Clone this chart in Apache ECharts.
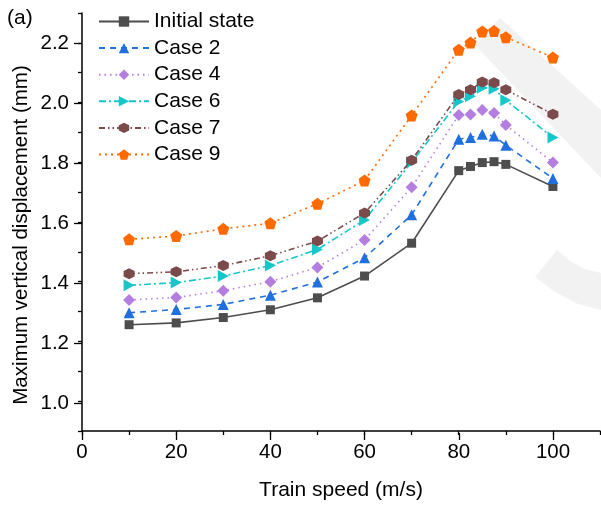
<!DOCTYPE html>
<html>
<head>
<meta charset="utf-8">
<script src="https://cdn.jsdelivr.net/npm/echarts@6/dist/echarts.min.js"></script>
<style>
html,body{margin:0;padding:0;background:#fff;}
#chart{width:601px;height:506px;}
</style>
</head>
<body>
<div id="chart"></div>
<script>
// ---- data ----
var speeds = [10, 20, 30, 40, 50, 60, 70, 80, 82.5, 85, 87.5, 90, 100];
var seriesNames = ['Initial state', 'Case 2', 'Case 4', 'Case 6', 'Case 7', 'Case 9'];
var initialState = [1.256, 1.262, 1.280, 1.306, 1.346, 1.419, 1.529, 1.772, 1.786, 1.799, 1.802, 1.793, 1.719];
var case2 = [1.296, 1.307, 1.324, 1.355, 1.399, 1.480, 1.624, 1.877, 1.883, 1.894, 1.888, 1.857, 1.746];
var case4 = [1.339, 1.347, 1.370, 1.400, 1.448, 1.540, 1.716, 1.958, 1.960, 1.975, 1.965, 1.925, 1.799];
var case6 = [1.388, 1.397, 1.419, 1.454, 1.508, 1.607, 1.800, 2.004, 2.021, 2.050, 2.046, 2.008, 1.883];
var case7 = [1.427, 1.433, 1.454, 1.487, 1.536, 1.630, 1.807, 2.027, 2.043, 2.069, 2.066, 2.043, 1.961];
var case9 = [1.542, 1.553, 1.577, 1.596, 1.661, 1.739, 1.957, 2.177, 2.201, 2.238, 2.240, 2.219, 2.151];
var xTickLabels = ['0', '20', '40', '60', '80', '100'];
var yTickLabels = ['1.0', '1.2', '1.4', '1.6', '1.8', '2.0', '2.2'];

var FONT = '"Liberation Sans", Arial, sans-serif';
function pairs(vals) { return speeds.map(function (s, i) { return [s, vals[i]]; }); }

var styles = [
  { color: '#4d4d4d', type: 'solid', symbol: 'rect', size: 9 },
  { color: '#1f6fde', type: [6, 5], symbol: 'triangle', size: 11 },
  { color: '#b47de0', type: [1.5, 4], symbol: 'diamond', size: 12 },
  { color: '#17c6c8', type: [7, 3, 2, 3], symbol: 'path://M0,0 L1,0.5 L0,1 Z', size: [11, 12] },
  { color: '#7b4b4b', type: [6, 3, 1.5, 3, 1.5, 3], symbol: 'path://M0,-1 L0.866,-0.5 L0.866,0.5 L0,1 L-0.866,0.5 L-0.866,-0.5 Z', size: 11 },
  { color: '#ff6a00', type: [2, 4], symbol: 'path://M0,-1 L0.951,-0.309 L0.588,0.809 L-0.588,0.809 L-0.951,-0.309 Z', size: 12 }
];
var allData = [initialState, case2, case4, case6, case7, case9];

var series = allData.map(function (vals, i) {
  var st = styles[i];
  return {
    name: seriesNames[i],
    type: 'line',
    xAxisIndex: 0, yAxisIndex: 0,
    data: pairs(vals),
    symbol: st.symbol,
    symbolSize: st.size,
    itemStyle: { color: st.color, opacity: 1 },
    lineStyle: { color: st.color, width: 1.6, type: st.type },
    z: 3 + i,
    animation: false
  };
});

var chart = echarts.init(document.getElementById('chart'), null, { renderer: 'canvas' });
chart.setOption({
  animation: false,
  backgroundColor: '#fff',
  title: { text: '(a)', left: 2, top: 3, textStyle: { fontFamily: FONT, fontSize: 21, fontWeight: 'normal', color: '#000' } },
  graphic: {
    elements: [
      { type: 'polygon', z: 0, silent: true, shape: { points: [[500, 18], [601, 110], [601, 178], [475, 45]] }, style: { fill: '#f2f2f2' } },
      { type: 'polygon', z: 0, silent: true, shape: { points: [[557, 250], [570, 261], [585, 269], [601, 273], [601, 310], [578, 304], [555, 292], [535, 277]] }, style: { fill: '#f2f2f2' } }
    ]
  },
  legend: {
    orient: 'vertical', left: 93, top: 6,
    itemWidth: 50, itemHeight: 13, itemGap: 5.6,
    textStyle: { fontFamily: FONT, fontSize: 21, color: '#000' },
    data: seriesNames
  },
  grid: [
    { left: 82, right: 1, top: 13, bottom: 73 },
    { left: 82, right: 48, top: 43, bottom: 103 }
  ],
  xAxis: [
    { type: 'value', gridIndex: 0, min: 0, max: 110, interval: 10,
      name: 'Train speed (m/s)', nameLocation: 'middle', nameGap: 49,
      nameTextStyle: { fontFamily: FONT, fontSize: 21, color: '#000' },
      axisLine: { show: true, lineStyle: { color: '#000', width: 1.5 } },
      axisTick: { show: true, length: 4, lineStyle: { color: '#000', width: 1.3 } },
      axisLabel: { show: false }, splitLine: { show: false } },
    { type: 'value', gridIndex: 1, min: 0, max: 100, interval: 20, offset: 30, position: 'bottom',
      axisLine: { show: false },
      axisTick: { show: true, length: 7, lineStyle: { color: '#000', width: 1.3 } },
      axisLabel: { show: true, margin: 9, fontFamily: FONT, fontSize: 20.5, color: '#000',
        formatter: function (v) { return xTickLabels[Math.round(v / 20)]; } },
      splitLine: { show: false } }
  ],
  yAxis: [
    { type: 'value', gridIndex: 0, min: 0.9, max: 2.3, interval: 0.1,
      name: 'Maximum vertical displacement (mm)', nameLocation: 'middle', nameGap: 50,
      nameTextStyle: { fontFamily: FONT, fontSize: 20.5, color: '#000', padding: [0, 26, 0, 0] },
      axisLine: { show: true, lineStyle: { color: '#000', width: 1.5 } },
      axisTick: { show: true, length: 4, lineStyle: { color: '#000', width: 1.3 } },
      axisLabel: { show: false }, splitLine: { show: false } },
    { type: 'value', gridIndex: 1, min: 1.0, max: 2.2, interval: 0.2, position: 'left',
      axisLine: { show: false },
      axisTick: { show: true, length: 8, lineStyle: { color: '#000', width: 1.3 } },
      axisLabel: { show: true, margin: 13, fontFamily: FONT, fontSize: 20.5, color: '#000',
        formatter: function (v) { return yTickLabels[Math.round((v - 1.0) / 0.2)]; } },
      splitLine: { show: false } }
  ],
  series: series
});
</script>
</body>
</html>
